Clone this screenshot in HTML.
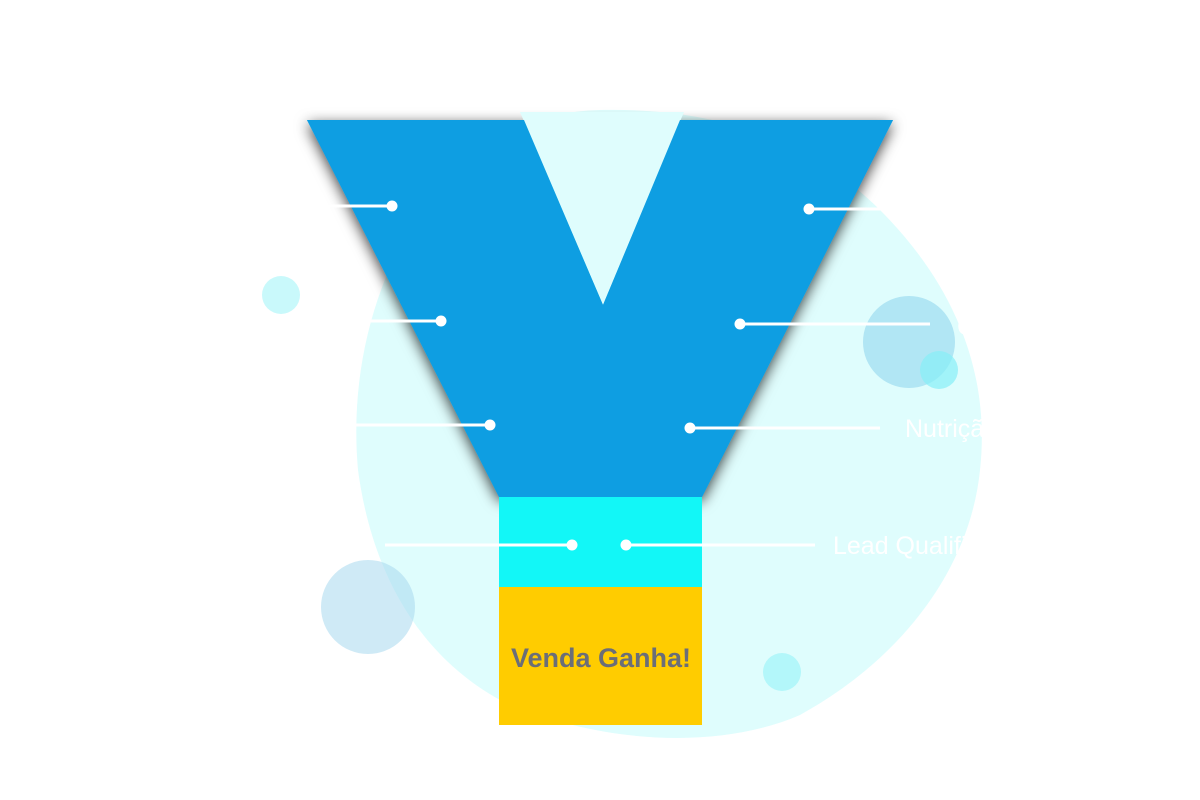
<!DOCTYPE html>
<html><head><meta charset="utf-8"><style>
html,body{margin:0;padding:0;background:#fff;width:1200px;height:800px;overflow:hidden}
</style></head><body>
<svg width="1200" height="800" viewBox="0 0 1200 800" xmlns="http://www.w3.org/2000/svg">
<defs>
<filter id="sh" x="-20%" y="-20%" width="140%" height="140%">
<feDropShadow dx="0" dy="4" stdDeviation="7" flood-color="#000" flood-opacity="0.75"/>
</filter>
</defs>
<path d="M600,110 C700,108 800,130 880,210 C960,290 990,380 980,470 C970,570 900,660 800,715 C720,750 600,745 500,700 C410,650 370,560 358,470 C350,380 370,290 420,210 C470,140 530,112 600,110 Z" fill="#dffdfd"/>
<circle cx="281" cy="295" r="19" fill="#c9f9fb"/>
<circle cx="368" cy="607" r="47" fill="#a8d8ee" opacity="0.55"/>
<circle cx="782" cy="672" r="19" fill="#b3f7fa"/>
<polygon points="307,120 893,120 702,497 499,497" fill="#0e9ee2" filter="url(#sh)"/>
<polygon points="520,112 603,305 684,112" fill="#dffdfd"/>
<polygon points="307,120 524,120 603,305 680,120 893,120 702,497 499,497" fill="#0e9ee2"/>
<rect x="499" y="497" width="203" height="91" fill="#12f7f7"/>
<rect x="499" y="587" width="203" height="138" fill="#ffcc00"/>
<text x="601" y="667" text-anchor="middle" font-family="Liberation Sans, sans-serif" font-weight="bold" font-size="27" fill="#6b6e78">Venda Ganha!</text>
<circle cx="909" cy="342" r="46" fill="#9ddcef" opacity="0.7"/>
<circle cx="939" cy="370" r="19" fill="#86eef7" opacity="0.7"/>
<g stroke="#fff" stroke-width="3">
<line x1="325" y1="206" x2="392" y2="206"/>
<line x1="370" y1="321" x2="441" y2="321"/>
<line x1="355" y1="425" x2="490" y2="425"/>
<line x1="385" y1="545" x2="572" y2="545"/>
<line x1="809" y1="209" x2="900" y2="209"/>
<line x1="740" y1="324" x2="930" y2="324"/>
<line x1="690" y1="428" x2="880" y2="428"/>
<line x1="626" y1="545" x2="815" y2="545"/>
</g>
<g fill="#fff">
<circle cx="392" cy="206" r="5.5"/><circle cx="441" cy="321" r="5.5"/>
<circle cx="490" cy="425" r="5.5"/><circle cx="572" cy="545" r="5.5"/>
<circle cx="809" cy="209" r="5.5"/><circle cx="740" cy="324" r="5.5"/>
<circle cx="690" cy="428" r="5.5"/><circle cx="626" cy="545" r="5.5"/>
</g>
<g fill="#fff" font-family="Liberation Sans, sans-serif" font-size="25">
<text x="957" y="335">Conversão</text>
<text x="905" y="437">Nutrição</text>
<text x="833" y="554">Lead Qualificado</text>
</g>
</svg>
</body></html>
